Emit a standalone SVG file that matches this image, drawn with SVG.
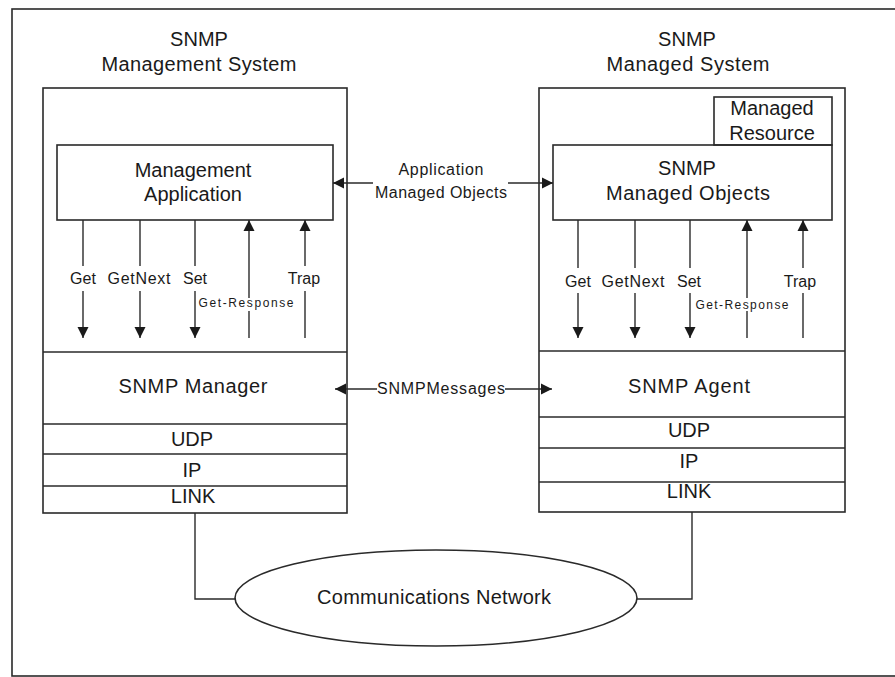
<svg xmlns="http://www.w3.org/2000/svg" width="895" height="677" viewBox="0 0 895 677">
<style>
.box{fill:none;stroke:#2a2a2a;stroke-width:1.6}
.ln{fill:none;stroke:#2a2a2a;stroke-width:1.4}
.t{font-family:"Liberation Sans",Arial,sans-serif;fill:#1a1a1a;text-anchor:middle}
.big{font-size:20px}
.mid{font-size:16px}
.sm{font-size:12px}
</style>
<defs>
<marker id="ah" viewBox="0 0 10 10" refX="10" refY="5" markerWidth="11" markerHeight="12" markerUnits="userSpaceOnUse" orient="auto">
<path d="M0,0 L10,5 L0,10 z" fill="#1a1a1a"/>
</marker>
</defs>
<rect width="895" height="677" fill="#fff"/>
<g id="frame"><rect x="12" y="9" width="890" height="667" class="box"/></g>

<g id="management-system">
<text class="t big" x="199" y="46">SNMP</text>
<text class="t big" x="199" y="71" textLength="195">Management System</text>
<rect x="43" y="88" width="304" height="425" class="box"/>
</g>
<g id="management-application">
<rect x="57" y="145" width="276" height="75" class="box"/>
<text class="t big" x="193" y="177">Management</text>
<text class="t big" x="193" y="201">Application</text>
</g>
<g id="snmp-manager">
<line x1="43" y1="352" x2="347" y2="352" class="ln"/>
<text class="t big" x="193" y="393" textLength="149">SNMP Manager</text>
</g>
<g id="udp-left">
<line x1="43" y1="424" x2="347" y2="424" class="ln"/>
<text class="t big" x="192" y="446">UDP</text>
</g>
<g id="ip-left">
<line x1="43" y1="454" x2="347" y2="454" class="ln"/>
<text class="t big" x="192" y="477">IP</text>
</g>
<g id="link-left">
<line x1="43" y1="486" x2="347" y2="486" class="ln"/>
<text class="t big" x="193" y="503">LINK</text>
</g>

<g id="managed-system">
<text class="t big" x="687" y="46">SNMP</text>
<text class="t big" x="688" y="71" textLength="163">Managed System</text>
<rect x="539" y="88" width="306" height="424" class="box"/>
</g>
<g id="managed-resource">
<rect x="714" y="97" width="118" height="48" class="box"/>
<text class="t big" x="772" y="115">Managed</text>
<text class="t big" x="772" y="140">Resource</text>
</g>
<g id="snmp-managed-objects">
<rect x="553" y="145" width="279" height="75" class="box"/>
<text class="t big" x="687" y="175">SNMP</text>
<text class="t big" x="688" y="200" textLength="164">Managed Objects</text>
</g>
<g id="snmp-agent">
<line x1="539" y1="351" x2="845" y2="351" class="ln"/>
<text class="t big" x="689" y="393" textLength="122">SNMP Agent</text>
</g>
<g id="udp-right">
<line x1="539" y1="417" x2="845" y2="417" class="ln"/>
<text class="t big" x="689" y="437">UDP</text>
</g>
<g id="ip-right">
<line x1="539" y1="448" x2="845" y2="448" class="ln"/>
<text class="t big" x="689" y="468">IP</text>
</g>
<g id="link-right">
<line x1="539" y1="482" x2="845" y2="482" class="ln"/>
<text class="t big" x="689" y="498">LINK</text>
</g>

<g id="communications-network">
<ellipse cx="436" cy="598" rx="201" ry="48" class="box"/>
<text class="t big" x="434" y="604" textLength="234">Communications Network</text>
</g>

<g id="connectors">
<line x1="83" y1="220" x2="83" y2="266" class="ln"/>
<line x1="83" y1="291" x2="83" y2="338" class="ln" marker-end="url(#ah)"/>
<line x1="140" y1="220" x2="140" y2="266" class="ln"/>
<line x1="140" y1="291" x2="140" y2="338" class="ln" marker-end="url(#ah)"/>
<line x1="195" y1="220" x2="195" y2="266" class="ln"/>
<line x1="195" y1="291" x2="195" y2="338" class="ln" marker-end="url(#ah)"/>
<line x1="249" y1="298" x2="249" y2="220" class="ln" marker-end="url(#ah)"/>
<line x1="249" y1="311" x2="249" y2="338" class="ln"/>
<line x1="305" y1="266" x2="305" y2="220" class="ln" marker-end="url(#ah)"/>
<line x1="305" y1="291" x2="305" y2="338" class="ln"/>
<line x1="578" y1="220" x2="578" y2="268" class="ln"/>
<line x1="578" y1="293" x2="578" y2="338" class="ln" marker-end="url(#ah)"/>
<line x1="635" y1="220" x2="635" y2="268" class="ln"/>
<line x1="635" y1="293" x2="635" y2="338" class="ln" marker-end="url(#ah)"/>
<line x1="690" y1="220" x2="690" y2="268" class="ln"/>
<line x1="690" y1="293" x2="690" y2="338" class="ln" marker-end="url(#ah)"/>
<line x1="747" y1="298" x2="747" y2="220" class="ln" marker-end="url(#ah)"/>
<line x1="747" y1="311" x2="747" y2="338" class="ln"/>
<line x1="803" y1="268" x2="803" y2="220" class="ln" marker-end="url(#ah)"/>
<line x1="803" y1="293" x2="803" y2="338" class="ln"/>
<text class="t mid" x="83" y="284">Get</text>
<text class="t mid" x="139" y="284" textLength="63">GetNext</text>
<text class="t mid" x="195" y="284">Set</text>
<text class="t mid" x="304" y="284">Trap</text>
<text class="t sm" x="246" y="307" textLength="95">Get-Response</text>
<text class="t mid" x="578" y="287">Get</text>
<text class="t mid" x="633" y="287" textLength="63">GetNext</text>
<text class="t mid" x="689" y="287">Set</text>
<text class="t mid" x="800" y="287">Trap</text>
<text class="t sm" x="742" y="309" textLength="93">Get-Response</text>
<line x1="373" y1="183" x2="333" y2="183" class="ln" marker-end="url(#ah)"/>
<line x1="508" y1="183" x2="553" y2="183" class="ln" marker-end="url(#ah)"/>
<text class="t mid" x="441" y="175" textLength="85">Application</text>
<text class="t mid" x="441" y="198" textLength="132">Managed Objects</text>
<line x1="377" y1="389" x2="335" y2="389" class="ln" marker-end="url(#ah)"/>
<line x1="505" y1="389" x2="552" y2="389" class="ln" marker-end="url(#ah)"/>
<text class="t mid" x="441" y="394" textLength="128">SNMPMessages</text>
<polyline points="195,513 195,599 236,599" class="ln"/>
<polyline points="692,512 692,599 637,599" class="ln"/>
</g>
</svg>
